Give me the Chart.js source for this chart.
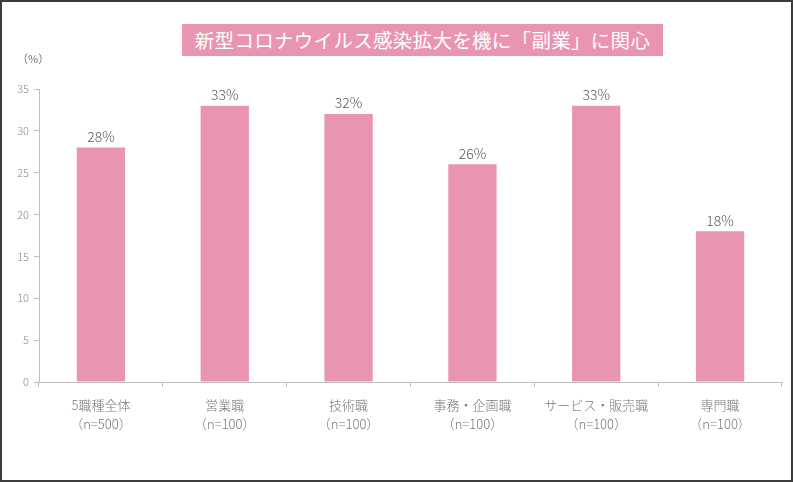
<!DOCTYPE html>
<html>
<head>
<meta charset="utf-8">
<script src="https://cdn.jsdelivr.net/npm/chart.js@4"></script>
<style>
  html, body { margin: 0; padding: 0; }
  body { width: 793px; height: 482px; background: #3c3c3c; position: relative; overflow: hidden;
    font-family: "Noto Sans CJK JP", "Noto Sans", sans-serif; }
  #frame { position: absolute; left: 2px; top: 2px; width: 789px; height: 478px; background: #fff; }
  #title { position: absolute; left: 180px; top: 22px; width: 481px; height: 32px; background: #e994b0;
    color: #fff; font-size: 19.5px; line-height: 32px; text-align: center; letter-spacing: 0.3px; }
  #unit { position: absolute; left: 15px; top: 48px; font-size: 11px; color: #777; }
  #wrap { position: absolute; left: 0; top: 0; width: 789px; height: 478px; }
</style>
</head>
<body>
<div id="frame">
  <div id="wrap"><canvas id="myChart"></canvas></div>
  <div id="title">新型コロナウイルス感染拡大を機に「副業」に関心</div>
  <div id="unit">（%）</div>
</div>
<script>
const jobs = ["5職種全体", "営業職", "技術職", "事務・企画職", "サービス・販売職", "専門職"];
const samples = ["（n=500）", "（n=100）", "（n=100）", "（n=100）", "（n=100）", "（n=100）"];
const interested = [28, 33, 32, 26, 33, 18];

const valueLabels = {
  id: "valueLabels",
  afterDatasetsDraw(chart) {
    const c = chart.ctx;
    const meta = chart.getDatasetMeta(0);
    c.save();
    c.font = '300 14px "Noto Sans CJK JP", sans-serif';
    c.fillStyle = "#595959";
    c.textAlign = "center";
    c.textBaseline = "bottom";
    meta.data.forEach((bar, i) => {
      c.fillText(interested[i] + "%", bar.x, bar.y - 4);
    });
    c.restore();
  },
};

const ctx = document.getElementById("myChart");

new Chart(ctx, {
  type: "bar",
  data: {
    labels: jobs.map((j, i) => [j, samples[i]]),
    datasets: [
      {
        data: interested,
        backgroundColor: "#e994b0",
        barPercentage: 0.39,
        categoryPercentage: 1,
      },
    ],
  },
  options: {
    responsive: true,
    maintainAspectRatio: false,
    animation: false,
    layout: { padding: { top: 87, right: 9, left: 0, bottom: 0 } },
    plugins: { legend: { display: false }, tooltip: { enabled: false } },
    scales: {
      x: {
        afterFit(scale) { scale.height = 98; },
        border: { color: "#bfbfbf", width: 1 },
        grid: { drawOnChartArea: false, drawTicks: true, tickLength: 5, color: "#bfbfbf", offset: true },
        ticks: {
          color: "#777",
          padding: 8,
          font: { size: 13, family: '"Noto Sans CJK JP", sans-serif', weight: 300, lineHeight: 1.5 },
        },
      },
      y: {
        min: 0,
        max: 35,
        afterFit(scale) { scale.width = 37; },
        border: { color: "#bfbfbf", width: 1 },
        grid: { drawOnChartArea: false, drawTicks: true, tickLength: 5, color: "#bfbfbf" },
        ticks: {
          stepSize: 5,
          color: "#888",
          padding: 5,
          font: { size: 11, family: '"Noto Sans CJK JP", sans-serif', weight: 300 },
        },
      },
    },
  },
  plugins: [valueLabels],
});
</script>
</body>
</html>
